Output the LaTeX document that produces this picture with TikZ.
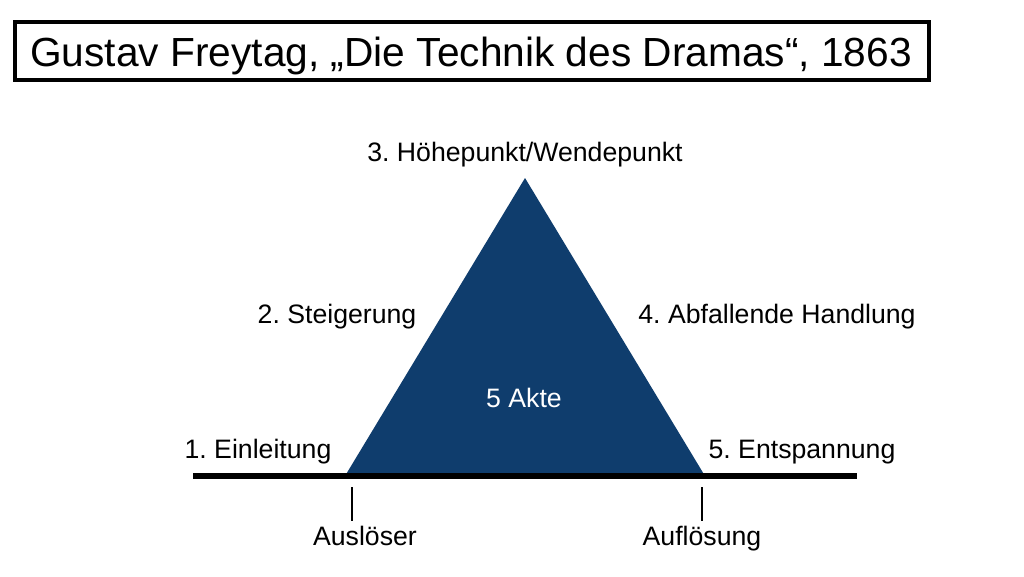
\documentclass[tikz,border=0pt]{standalone}
\usepackage{fontspec}
\setmainfont{Liberation Sans}
\definecolor{navy}{HTML}{0F3D6D}
\begin{document}
\frenchspacing
\begin{tikzpicture}[x=0.75pt,y=-0.75pt,
  lbl/.style={font=\fontsize{20pt}{24pt}\selectfont, inner sep=0pt, anchor=base},
  ttl/.style={font=\fontsize{30.5pt}{36pt}\selectfont, inner sep=0pt, anchor=base}]
\useasboundingbox (0,0) rectangle (1024,576);
\fill[white] (0,0) rectangle (1024,576);
% title box
\draw[line width=3pt] (15,22) rectangle (929,80);
\node[ttl] (title) at (471,66) {Gustav Freytag, „Die Technik des Dramas“, 1863};
% triangle
\coordinate (apex) at (525,178);
\coordinate (bl) at (345,476);
\coordinate (br) at (705,476);
\fill[navy] (apex) -- (bl) -- (br) -- cycle;
% base line
\coordinate (ls) at (193,476);
\coordinate (le) at (857,476);
\draw[line width=4pt] (ls) -- (le);
% ticks
\coordinate (t1a) at (352,487);
\coordinate (t1b) at (352,521);
\coordinate (t2a) at (702,487);
\coordinate (t2b) at (702,521);
\draw[line width=0.9pt] (t1a) -- (t1b);
\draw[line width=0.9pt] (t2a) -- (t2b);
% labels
\node[lbl] (hp) at (525,161) {3. Höhepunkt/Wendepunkt};
\node[lbl] (st) at (337,323) {2. Steigerung};
\node[lbl] (ab) at (777,323) {4. Abfallende Handlung};
\node[lbl,text=white] (akte) at (524,407) {5 Akte};
\node[lbl] (ei) at (258,458) {1. Einleitung};
\node[lbl] (en) at (802,458) {5. Entspannung};
\node[lbl] (au) at (365,545) {Auslöser};
\node[lbl] (af) at (702,545) {Auflösung};
\end{tikzpicture}
\end{document}
